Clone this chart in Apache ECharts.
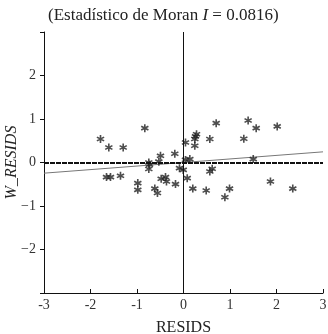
<!DOCTYPE html>
<html><head><meta charset="utf-8">
<script src="https://cdn.jsdelivr.net/npm/echarts@6/dist/echarts.min.js"></script>
<style>html,body{margin:0;padding:0;background:#fff}#c{width:328px;height:334px}</style>
</head><body><div id="c"></div>
<script>
var titleText = 'Estadístico de Moran';
var moranLabel = '0.0816';
var xTicks = [-3, -2, -1, 0, 1, 2, 3];
var yTicks = [-2, -1, 0, 1, 2];
var resids = [-1.785, -1.606, -1.297, -0.832, -1.656, -1.57, -1.355, -0.983, -0.983, -0.746, -0.73, -0.746,
  -0.617, -0.56, -0.495, -0.53, -0.48, -0.387, -0.366, -0.187, -0.086, -0.172, -0.006, 0.043, 0.043, 0.136,
  0.08, 0.2, 0.243, 0.243, 0.258, 0.28, 0.488, 0.566, 0.617, 0.566, 0.703, 0.89, 0.99, 1.297, 1.39, 1.563,
  1.5, 1.87, 2.015, 2.35];
var wResids = [0.54, 0.345, 0.345, 0.79, -0.336, -0.336, -0.306, -0.474, -0.628, 0.0, -0.05, -0.15,
  -0.6, -0.70, 0.154, 0.02, -0.375, -0.336, -0.437, 0.2, -0.13, -0.497, -0.17, 0.46, 0.06, 0.078,
  -0.36, -0.6, 0.384, 0.54, 0.6, 0.65, -0.644, -0.207, -0.145, 0.54, 0.905, -0.80, -0.6, 0.545, 0.966, 0.79,
  0.078, -0.437, 0.83, -0.6];
var regX = [-3, 3];
var regY = [-0.245, 0.245];

var pts = resids.map(function(v, i){ return [v, wResids[i]]; });
var reg = regX.map(function(v, i){ return [v, regY[i]]; });
var star = 'path://M4 0 L6 0 L6 10 L4 10 Z M0.07 3.53 L1.07 1.80 L9.93 6.47 L8.93 8.20 Z M0.07 6.47 L8.93 1.80 L9.93 3.53 L1.07 8.20 Z';
var serif = '"Liberation Serif", "DejaVu Serif", serif';

var chart = echarts.init(document.getElementById('c'));
chart.setOption({
  animation: false,
  title: {
    text: '{a|(' + titleText + ' }{b|I}{a| = ' + moranLabel + ')}',
    left: 43, top: 2,
    textStyle: {
      fontWeight: 'normal',
      rich: {
        a: {fontFamily: serif, fontSize: 17, fontWeight: 'normal', color: '#222'},
        b: {fontFamily: serif, fontSize: 17, fontWeight: 'normal', fontStyle: 'italic', color: '#222'}
      }
    }
  },
  grid: {left: 44, right: 5, top: 32, bottom: 41, containLabel: false, outerBoundsMode: 'none'},
  xAxis: {
    type: 'value', min: -3, max: 3, interval: 1,
    name: 'RESIDS', nameLocation: 'middle', nameGap: 27, nameMoveOverlap: false,
    nameTextStyle: {fontFamily: serif, fontSize: 16, color: '#222'},
    axisLine: {onZero: false, lineStyle: {color: '#111', width: 1}},
    axisTick: {inside: true, length: 4, lineStyle: {color: '#111'}},
    axisLabel: {fontFamily: serif, fontSize: 14, color: '#333', margin: 5,
      formatter: function(v){ return xTicks.indexOf(v) >= 0 ? String(v) : ''; }},
    splitLine: {show: false}
  },
  yAxis: {
    type: 'value', min: -3, max: 3, interval: 1,
    name: 'W_RESIDS', nameLocation: 'middle', nameGap: 24, nameMoveOverlap: false,
    nameTextStyle: {fontFamily: serif, fontSize: 16, fontStyle: 'italic', color: '#222'},
    axisLine: {onZero: false, lineStyle: {color: '#111', width: 1}},
    axisTick: {inside: false, length: 4, lineStyle: {color: '#111'}},
    axisLabel: {fontFamily: serif, fontSize: 14, color: '#333', margin: 8,
      formatter: function(v){ return yTicks.indexOf(v) >= 0 ? String(v).replace('-', '\u2212') : ''; }},
    splitLine: {show: false}
  },
  series: [
    {
      type: 'line', data: reg, symbol: 'none', silent: true,
      lineStyle: {color: '#777', width: 1},
      markLine: {
        silent: true, symbol: 'none', label: {show: false},
        data: [
          {xAxis: 0, lineStyle: {color: '#111', width: 1, type: 'solid'}},
          {yAxis: 0, lineStyle: {color: '#111', width: 2, type: [5, 1]}}
        ]
      },
      z: 2
    },
    {
      type: 'scatter', data: pts, symbol: star, symbolSize: 8,
      itemStyle: {color: '#222'}, z: 3
    }
  ]
});
</script>
</body></html>
